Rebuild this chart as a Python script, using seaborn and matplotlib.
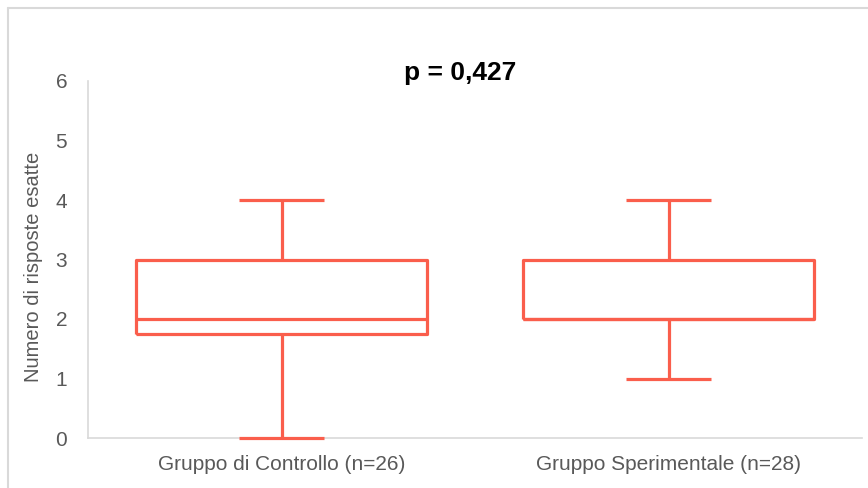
import matplotlib
matplotlib.use("Agg")
import matplotlib.pyplot as plt
import numpy as np
import pandas as pd
import seaborn as sns
from matplotlib.lines import Line2D

# five-number summaries: min, Q1, median, Q3, max
GROUPS = ["Gruppo di Controllo (n=26)", "Gruppo Sperimentale (n=28)"]
CONTROLLO = [0, 1.75, 2, 3, 4]
SPERIMENTALE = [1, 2, 2, 3, 4]
YTICKS = [0, 1, 2, 3, 4, 5, 6]
TITLE = "p = 0,427"
YLABEL = "Numero di risposte esatte"

BOX_COLOR = "#FA5E4C"
GRAY_TEXT = "#595959"
GRAY_LINE = "#D9D9D9"


def main() -> None:
    df = pd.DataFrame({
        "gruppo": [GROUPS[0]] * len(CONTROLLO) + [GROUPS[1]] * len(SPERIMENTALE),
        "valore": CONTROLLO + SPERIMENTALE,
    })

    sns.set_style("white")
    plt.rcParams["font.family"] = ["Liberation Sans", "DejaVu Sans"]

    fig = plt.figure(figsize=(8.68, 4.88), dpi=100)
    ax = fig.add_axes([88 / 868, 1 - 438 / 488, (862 - 88) / 868, (438 - 81) / 488])

    sns.boxplot(
        data=df, x="gruppo", y="valore", ax=ax,
        fill=False, color=BOX_COLOR, linewidth=2.3,
        whis=(0, 100), width=0.75, capwidths=0.22,
    )
    for line in ax.lines:
        line.set_clip_on(False)
        line.set_solid_capstyle("butt")

    ax.set_xlim(-0.5, 1.5)
    ax.set_ylim(0, 6)
    ax.set_yticks(YTICKS)
    ax.set_xlabel("")
    ax.set_ylabel(YLABEL, fontsize=14.5, color=GRAY_TEXT)
    ax.yaxis.set_label_coords(-0.058, 0.48)
    ax.tick_params(axis="both", length=0, colors=GRAY_TEXT, labelsize=15)
    ax.tick_params(axis="y", pad=15)
    ax.tick_params(axis="x", pad=12)

    for side in ("top", "right"):
        ax.spines[side].set_visible(False)
    for side in ("left", "bottom"):
        ax.spines[side].set_color(GRAY_LINE)
        ax.spines[side].set_linewidth(1.2)
        ax.spines[side].set_zorder(0)

    fig.text(460 / 868, 1 - 73 / 488, TITLE, ha="center", va="center",
             fontsize=19, fontweight="bold", color="black")

    # frame of the original screenshot (top and left edges only)
    fig.add_artist(Line2D([8 / 868, 1], [1 - 8 / 488] * 2, color=GRAY_LINE, lw=1.5))
    fig.add_artist(Line2D([8 / 868] * 2, [0, 1 - 8 / 488], color=GRAY_LINE, lw=1.5))

    fig.savefig("out.png", dpi=100)


if __name__ == "__main__":
    main()
